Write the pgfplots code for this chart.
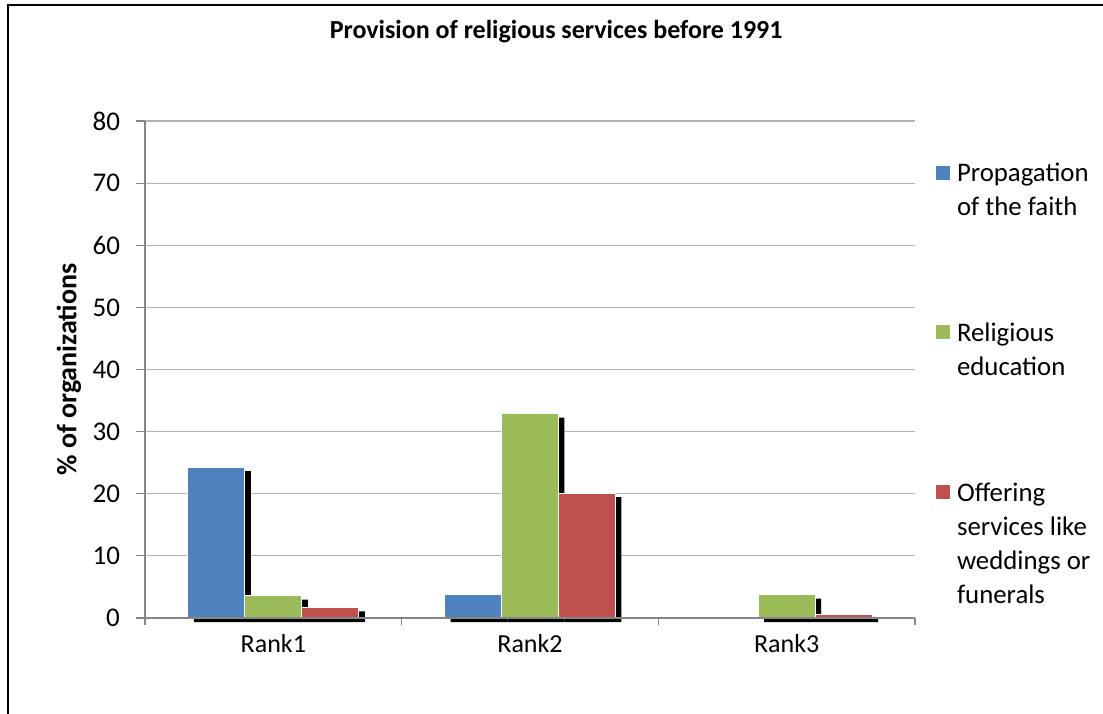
\documentclass[border=0pt]{standalone}
\usepackage{pgfplots}
\pgfplotsset{compat=1.18}
\usepackage{fontspec}
\setmainfont{Carlito}
\definecolor{cblue}{HTML}{4F81BD}
\definecolor{cgreen}{HTML}{9BBB59}
\definecolor{cred}{HTML}{C0504D}
\definecolor{axgray}{HTML}{868686}
\definecolor{grgray}{HTML}{B3B3B3}
\pgfplotsset{shadowbar/.style={draw=white, line width=0.4pt,
  preaction={fill=black, draw=none, transform canvas={xshift=3pt, yshift=-2pt}}}}
\newcommand{\legsq}[1]{\pgfpathmoveto{\pgfpointorigin}\pgfpathrectangle{\pgfpoint{0pt}{1pt}}{\pgfpoint{7pt}{7pt}}\pgfsetfillcolor{#1}\pgfusepath{fill}}
\newcommand{\legtxt}[1]{\parbox[t]{80pt}{\strut #1}}
\begin{document}
\begin{tikzpicture}
\useasboundingbox (-72.5pt,-47.5pt) rectangle (479pt,309pt);
\draw[line width=0.75pt] (-68.5pt,-50pt) -- (-68.5pt,306.5pt) -- (482pt,306.5pt);
\begin{axis}[
  scale only axis, width=385pt, height=248.5pt,
  xmin=-0.5, xmax=2.5, ymin=0, ymax=80,
  clip=false,
  ytick={0,10,...,80},
  xtick={0,1,2}, xticklabels={Rank1,Rank2,Rank3},
  minor xtick={-0.5,0.5,1.5,2.5},
  axis x line*=bottom, axis y line*=left,
  axis line style={axgray, line width=0.6pt},
  ymajorgrids, grid style={grgray, line width=0.6pt},
  tick align=outside, major tick length=4.5pt, minor tick length=3.5pt,
  every major x tick/.style={draw=none},
  every minor x tick/.style={axgray, line width=0.6pt},
  ytick style={axgray, line width=0.6pt},
  /pgf/number format/assume math mode=true,
  yticklabel style={font=\fontsize{13.5}{16}\selectfont, anchor=east, xshift=-4.5pt},
  xticklabel style={font=\fontsize{13}{15}\selectfont},
  title={\bfseries Provision of religious services before 1991},
  title style={at={(0.534,1.141)}, anchor=base, font=\fontsize{13}{15}\selectfont},
  ylabel={\bfseries \% of organizations},
  ylabel style={at={(axis description cs:-0.0987,0.5)}, anchor=center, font=\fontsize{14}{16}\selectfont},
  ybar=0pt, bar width=0.222,
  legend style={at={(1.0273,0.9258)}, anchor=north west, draw=none, fill=none,
    inner sep=0pt, outer sep=0pt, row sep=66.5pt, column sep=3.5pt,
    font=\fontsize{13.4}{17}\selectfont,
    nodes={inner sep=0pt, outer sep=0pt, anchor=base west},
    cells={anchor=base west}},
]
\addplot[fill=cblue, shadowbar, legend image code/.code={\legsq{cblue}}]
  coordinates {(0,24.3) (1,3.75)};
\addlegendentry{\legtxt{Propagation\\of the faith}}
\addplot[fill=cgreen, shadowbar, legend image code/.code={\legsq{cgreen}}]
  coordinates {(0,3.6) (1,32.9) (2,3.75)};
\addlegendentry{\legtxt{Religious\\education}}
\addplot[fill=cred, shadowbar, legend image code/.code={\legsq{cred}}]
  coordinates {(0,1.7) (1,20.1) (2,0.55)};
\addlegendentry{\legtxt{Offering\\services like\\weddings or\\funerals}}
\draw[axgray, line width=0.6pt] (axis cs:-0.5,0) -- (axis cs:2.5,0);
\end{axis}
\end{tikzpicture}
\end{document}
